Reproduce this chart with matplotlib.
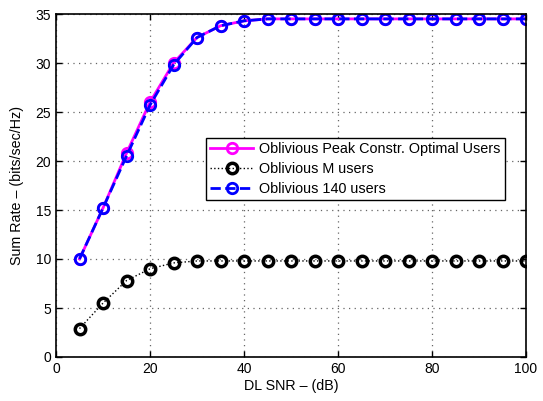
import matplotlib
matplotlib.use("Agg")
import matplotlib.pyplot as plt

# data
snr_db = [5, 10, 15, 20, 25, 30, 35, 40, 45, 50, 55, 60, 65, 70, 75, 80, 85, 90, 95, 100]
peak_constr = [10.0, 15.2, 20.8, 26.0, 30.0, 32.6, 33.8, 34.3, 34.5, 34.5,
               34.5, 34.5, 34.5, 34.5, 34.5, 34.5, 34.5, 34.5, 34.5, 34.5]
m_users = [2.9, 5.5, 7.8, 9.0, 9.6, 9.8, 9.8, 9.8, 9.8, 9.8,
           9.8, 9.8, 9.8, 9.8, 9.8, 9.8, 9.8, 9.8, 9.8, 9.8]
users_140 = [10.0, 15.2, 20.5, 25.7, 29.8, 32.6, 33.8, 34.3, 34.5, 34.5,
             34.5, 34.5, 34.5, 34.5, 34.5, 34.5, 34.5, 34.5, 34.5, 34.5]
labels = ["Oblivious Peak Constr. Optimal Users", "Oblivious M users", "Oblivious 140 users"]

plt.rcParams["font.family"] = ["Liberation Sans", "DejaVu Sans"]

fig = plt.figure(figsize=(5.43, 4.01), dpi=100)
ax = fig.add_axes([56 / 543, 44 / 401, 470 / 543, 343 / 401])

ax.plot(snr_db, peak_constr, color="#ff00ff", lw=2, ls="-", marker="o", ms=7.5,
        mfc="none", mew=2, label=labels[0])
ax.plot(snr_db, m_users, color="black", lw=1, ls=":", marker="o", ms=7.5,
        mfc="none", mew=2.5, label=labels[1])
ax.plot(snr_db, users_140, color="#0000ff", lw=2, ls="--", marker="o", ms=7.5,
        mfc="none", mew=2, label=labels[2])

ax.set_xlim(0, 100)
ax.set_ylim(0, 35)
ax.set_xticks(range(0, 101, 20))
ax.set_yticks(range(0, 36, 5))
ax.tick_params(direction="in", top=True, right=True, labelsize=10, length=4, width=1)
for sp in ax.spines.values():
    sp.set_linewidth(1.2)
ax.grid(True, ls=(0, (1, 3.5)), color="#666666", lw=0.9)
ax.set_xlabel("DL SNR \u2013 (dB)", fontsize=10.3, labelpad=2)
ax.set_ylabel("Sum Rate \u2013 (bits/sec/Hz)", fontsize=10.3, labelpad=8)

leg = ax.legend(loc="upper right", bbox_to_anchor=(0.955, 0.638), fontsize=10.4,
                fancybox=False, framealpha=1, edgecolor="black",
                handlelength=3, borderaxespad=0, borderpad=0.3, labelspacing=0.4,
                handletextpad=0.4)
leg.get_frame().set_linewidth(1)

fig.savefig("out.png", dpi=100)
